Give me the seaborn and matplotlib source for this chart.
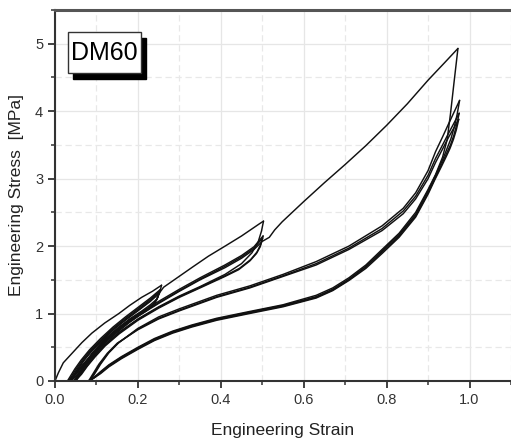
import numpy as np
import pandas as pd
import matplotlib
matplotlib.use("Agg")
import matplotlib.pyplot as plt
from matplotlib.patches import Rectangle
from matplotlib.ticker import MultipleLocator
import seaborn as sns

# ---------------- data ----------------
# Level A: cycles up to strain 0.25
a_v0_strain = [0, 0.008, 0.02, 0.041, 0.065, 0.089, 0.12, 0.154, 0.18, 0.209, 0.235, 0.257]
a_v0_stress = [0, 0.12, 0.27, 0.41, 0.57, 0.71, 0.86, 1.00, 1.12, 1.24, 1.33, 1.42]
a_u1_strain = [0.257, 0.252, 0.245, 0.23, 0.21, 0.18, 0.15, 0.12, 0.095, 0.075, 0.058, 0.045, 0.035, 0.030]
a_u1_stress = [1.42, 1.30, 1.21, 1.13, 1.04, 0.92, 0.77, 0.60, 0.44, 0.30, 0.18, 0.08, 0.02, 0]
a_r1_strain = [0.030, 0.038, 0.048, 0.063, 0.083, 0.11, 0.14, 0.17, 0.20, 0.23, 0.253]
a_r1_stress = [0, 0.08, 0.18, 0.31, 0.46, 0.63, 0.80, 0.95, 1.09, 1.23, 1.35]
a_u2_strain = [0.253, 0.248, 0.24, 0.225, 0.205, 0.18, 0.15, 0.12, 0.095, 0.075, 0.058, 0.046, 0.037, 0.033]
a_u2_stress = [1.35, 1.24, 1.16, 1.08, 1.00, 0.90, 0.75, 0.59, 0.43, 0.29, 0.17, 0.08, 0.02, 0]
a_r2_strain = [0.033, 0.041, 0.051, 0.066, 0.086, 0.112, 0.14, 0.17, 0.20, 0.23, 0.252]
a_r2_stress = [0, 0.08, 0.18, 0.31, 0.46, 0.62, 0.78, 0.93, 1.07, 1.21, 1.33]
a_u3_strain = [0.252, 0.247, 0.239, 0.224, 0.204, 0.18, 0.15, 0.12, 0.096, 0.076, 0.06, 0.048, 0.04, 0.036]
a_u3_stress = [1.33, 1.23, 1.15, 1.07, 0.99, 0.89, 0.74, 0.58, 0.42, 0.28, 0.17, 0.08, 0.02, 0]
a_r3_strain = [0.036, 0.044, 0.054, 0.069, 0.089, 0.115, 0.143, 0.172, 0.20, 0.23, 0.251]
a_r3_stress = [0, 0.08, 0.18, 0.31, 0.46, 0.62, 0.78, 0.92, 1.05, 1.19, 1.31]
a_u4_strain = [0.251, 0.246, 0.238, 0.223, 0.203, 0.18, 0.15, 0.12, 0.097, 0.077, 0.062, 0.05, 0.042, 0.038]
a_u4_stress = [1.31, 1.21, 1.13, 1.05, 0.97, 0.87, 0.72, 0.56, 0.41, 0.27, 0.16, 0.07, 0.02, 0]
# Level A last reload, continuing on the virgin path to strain 0.5
a_r4_strain = [0.038, 0.046, 0.056, 0.071, 0.091, 0.117, 0.145, 0.174, 0.20, 0.23, 0.25, 0.262,
               0.29, 0.332, 0.37, 0.413, 0.45, 0.493, 0.503]
a_r4_stress = [0, 0.08, 0.18, 0.31, 0.46, 0.62, 0.78, 0.92, 1.04, 1.18, 1.29, 1.39,
               1.51, 1.69, 1.85, 2.01, 2.15, 2.33, 2.37]

# Level B: cycles up to strain 0.5
b_u1_strain = [0.503, 0.498, 0.49, 0.475, 0.45, 0.41, 0.35, 0.30, 0.25, 0.20, 0.154, 0.12, 0.095, 0.075, 0.06, 0.05, 0.045]
b_u1_stress = [2.37, 2.22, 2.06, 1.90, 1.74, 1.58, 1.40, 1.26, 1.10, 0.92, 0.72, 0.54, 0.38, 0.23, 0.11, 0.04, 0]
b_r1_strain = [0.045, 0.055, 0.07, 0.09, 0.12, 0.154, 0.20, 0.25, 0.30, 0.35, 0.41, 0.45, 0.48, 0.502]
b_r1_stress = [0, 0.09, 0.24, 0.42, 0.62, 0.80, 0.99, 1.18, 1.36, 1.53, 1.72, 1.86, 1.99, 2.15]
b_u2_strain = [0.502, 0.496, 0.487, 0.472, 0.445, 0.41, 0.35, 0.30, 0.25, 0.20, 0.154, 0.12, 0.096, 0.077, 0.062, 0.053, 0.048]
b_u2_stress = [2.15, 2.02, 1.91, 1.80, 1.67, 1.56, 1.39, 1.25, 1.09, 0.91, 0.71, 0.53, 0.37, 0.22, 0.10, 0.04, 0]
b_r2_strain = [0.048, 0.058, 0.073, 0.093, 0.123, 0.157, 0.20, 0.25, 0.30, 0.35, 0.41, 0.45, 0.48, 0.501]
b_r2_stress = [0, 0.09, 0.24, 0.42, 0.61, 0.79, 0.97, 1.16, 1.34, 1.51, 1.70, 1.84, 1.97, 2.12]
b_u3_strain = [0.501, 0.495, 0.486, 0.47, 0.443, 0.41, 0.35, 0.30, 0.25, 0.20, 0.155, 0.121, 0.097, 0.078, 0.064, 0.055, 0.05]
b_u3_stress = [2.12, 1.99, 1.89, 1.78, 1.65, 1.55, 1.38, 1.24, 1.08, 0.90, 0.70, 0.52, 0.36, 0.22, 0.10, 0.04, 0]
# Level B last reload, continuing on the virgin path to strain 0.97
b_r3_strain = [0.05, 0.06, 0.075, 0.095, 0.125, 0.16, 0.20, 0.25, 0.30, 0.35, 0.41, 0.45, 0.48, 0.50,
               0.517, 0.53, 0.548, 0.60, 0.65, 0.70, 0.75, 0.80, 0.85, 0.90, 0.94, 0.972]
b_r3_stress = [0, 0.09, 0.24, 0.42, 0.61, 0.79, 0.96, 1.15, 1.33, 1.50, 1.68, 1.82, 1.95, 2.07,
               2.13, 2.24, 2.36, 2.66, 2.94, 3.21, 3.49, 3.79, 4.11, 4.46, 4.72, 4.93]

# Level C: cycles up to strain 0.97
c_u1_strain = [0.972, 0.963, 0.954, 0.946, 0.935, 0.918, 0.90, 0.87, 0.83, 0.789, 0.75, 0.709, 0.67, 0.63,
               0.55, 0.469, 0.39, 0.33, 0.284, 0.24, 0.20, 0.16, 0.13, 0.11, 0.095, 0.085]
c_u1_stress = [4.93, 4.45, 3.96, 3.58, 3.32, 3.06, 2.84, 2.50, 2.19, 1.95, 1.72, 1.53, 1.38, 1.27,
               1.13, 1.03, 0.93, 0.83, 0.74, 0.63, 0.50, 0.36, 0.24, 0.14, 0.06, 0]
c_r1_strain = [0.085, 0.095, 0.11, 0.13, 0.154, 0.20, 0.25, 0.30, 0.39, 0.47, 0.55, 0.63, 0.709, 0.789,
               0.84, 0.87, 0.90, 0.918, 0.935, 0.95, 0.963, 0.976]
c_r1_stress = [0, 0.10, 0.25, 0.42, 0.57, 0.78, 0.95, 1.07, 1.27, 1.41, 1.58, 1.77, 2.00, 2.30,
               2.56, 2.79, 3.12, 3.40, 3.62, 3.82, 3.99, 4.16]
c_u2_strain = [0.976, 0.97, 0.963, 0.955, 0.946, 0.935, 0.918, 0.90, 0.87, 0.83, 0.789, 0.75, 0.709, 0.67,
               0.63, 0.55, 0.469, 0.39, 0.33, 0.284, 0.24, 0.20, 0.16, 0.13, 0.11, 0.095, 0.083]
c_u2_stress = [4.16, 3.95, 3.76, 3.59, 3.45, 3.28, 3.05, 2.82, 2.47, 2.17, 1.93, 1.70, 1.51, 1.36,
               1.25, 1.12, 1.02, 0.92, 0.82, 0.73, 0.62, 0.49, 0.35, 0.23, 0.13, 0.05, 0]
c_r2_strain = [0.083, 0.093, 0.108, 0.128, 0.152, 0.20, 0.25, 0.30, 0.39, 0.47, 0.55, 0.63, 0.709, 0.789,
               0.84, 0.87, 0.90, 0.918, 0.935, 0.95, 0.963, 0.975]
c_r2_stress = [0, 0.10, 0.25, 0.41, 0.56, 0.77, 0.93, 1.05, 1.25, 1.39, 1.56, 1.74, 1.97, 2.26,
               2.52, 2.74, 3.05, 3.30, 3.50, 3.68, 3.83, 3.97]
c_u3_strain = [0.975, 0.969, 0.962, 0.954, 0.945, 0.934, 0.917, 0.90, 0.87, 0.83, 0.789, 0.75, 0.709, 0.67,
               0.63, 0.55, 0.469, 0.39, 0.33, 0.284, 0.24, 0.20, 0.16, 0.13, 0.11, 0.094, 0.081]
c_u3_stress = [3.97, 3.80, 3.64, 3.50, 3.38, 3.23, 3.01, 2.79, 2.45, 2.15, 1.91, 1.69, 1.50, 1.35,
               1.24, 1.11, 1.01, 0.91, 0.81, 0.72, 0.61, 0.48, 0.34, 0.22, 0.12, 0.05, 0]
c_r3_strain = [0.081, 0.091, 0.106, 0.126, 0.15, 0.20, 0.25, 0.30, 0.39, 0.47, 0.55, 0.63, 0.709, 0.789,
               0.84, 0.87, 0.90, 0.918, 0.935, 0.95, 0.963, 0.974]
c_r3_stress = [0, 0.10, 0.25, 0.41, 0.56, 0.76, 0.92, 1.04, 1.24, 1.38, 1.55, 1.72, 1.95, 2.23,
               2.48, 2.70, 3.00, 3.24, 3.44, 3.62, 3.76, 3.88]
c_u4_strain = [0.974, 0.968, 0.961, 0.953, 0.944, 0.933, 0.916, 0.90, 0.87, 0.83, 0.789, 0.75, 0.709, 0.67,
               0.63, 0.55, 0.469, 0.39, 0.33, 0.284, 0.24, 0.20, 0.16, 0.13, 0.11, 0.093, 0.079]
c_u4_stress = [3.88, 3.72, 3.58, 3.45, 3.33, 3.19, 2.98, 2.77, 2.43, 2.13, 1.89, 1.67, 1.49, 1.34,
               1.23, 1.10, 1.00, 0.90, 0.80, 0.71, 0.60, 0.47, 0.33, 0.21, 0.11, 0.04, 0]

segments = [
    (a_v0_strain, a_v0_stress), (a_u1_strain, a_u1_stress), (a_r1_strain, a_r1_stress),
    (a_u2_strain, a_u2_stress), (a_r2_strain, a_r2_stress), (a_u3_strain, a_u3_stress),
    (a_r3_strain, a_r3_stress), (a_u4_strain, a_u4_stress), (a_r4_strain, a_r4_stress),
    (b_u1_strain, b_u1_stress), (b_r1_strain, b_r1_stress), (b_u2_strain, b_u2_stress),
    (b_r2_strain, b_r2_stress), (b_u3_strain, b_u3_stress), (b_r3_strain, b_r3_stress),
    (c_u1_strain, c_u1_stress), (c_r1_strain, c_r1_stress), (c_u2_strain, c_u2_stress),
    (c_r2_strain, c_r2_stress), (c_u3_strain, c_u3_stress), (c_r3_strain, c_r3_stress),
    (c_u4_strain, c_u4_stress),
]

x_ticks = [0.0, 0.2, 0.4, 0.6, 0.8, 1.0]
y_ticks = [0, 1, 2, 3, 4, 5]
sample_label = "DM60"

rows = []
for i, (sx, sy) in enumerate(segments):
    for xv, yv in zip(sx, sy):
        rows.append({"seg": i, "strain": xv, "stress": yv})
df = pd.DataFrame(rows)

# ---------------- figure ----------------
sns.set_style("white")
plt.rcParams["font.family"] = ["Liberation Sans", "DejaVu Sans"]

W, H = 511, 441
fig = plt.figure(figsize=(W / 100, H / 100), dpi=100)
ax = fig.add_axes([55 / W, (H - 381) / H, (W - 55) / W, (381 - 10) / H])

ax.set_xlim(0, 1.1)
ax.set_ylim(0, 5.5)
ax.xaxis.set_major_locator(MultipleLocator(0.2))
ax.xaxis.set_minor_locator(MultipleLocator(0.1))
ax.yaxis.set_major_locator(MultipleLocator(1))
ax.yaxis.set_minor_locator(MultipleLocator(0.5))
ax.set_xticks(x_ticks)
ax.set_xticklabels([f"{v:.1f}" for v in x_ticks])
ax.set_yticks(y_ticks)
ax.set_yticklabels([str(v) for v in y_ticks])

ax.grid(True, which="major", color="#e6e6e6", lw=0.9, ls="-")
ax.grid(True, which="minor", color="#e8e8e8", lw=0.9, ls=(0, (5, 3)))
ax.set_axisbelow(True)

sns.lineplot(data=df, x="strain", y="stress", units="seg", estimator=None, sort=False,
             color="#111111", lw=1.05, ax=ax, legend=False)

for side in ["left", "bottom"]:
    ax.spines[side].set_color("#333333")
    ax.spines[side].set_linewidth(1.5)
ax.spines["top"].set_color("#555555")
ax.spines["top"].set_linewidth(2.2)
ax.spines["right"].set_visible(False)

ax.tick_params(which="major", direction="out", length=5, width=1.3, color="#333333",
               labelsize=10.5, labelcolor="#333333", top=False, right=False, bottom=True, left=True)
ax.tick_params(which="minor", direction="out", length=3, width=1.1, color="#333333",
               top=False, right=False, bottom=True, left=True)

ax.set_xlabel("Engineering Strain", fontsize=12.5, color="#222222", labelpad=12)
ax.set_ylabel("Engineering Stress  [MPa]", fontsize=12.5, color="#222222", labelpad=8)

# DM60 label box with shadow (figure pixel coordinates)
bx0, by0, bx1, by1 = 68, 32, 141, 73
fig.patches.append(Rectangle(((bx0 + 5) / W, (H - by1 - 6) / H), (bx1 - bx0) / W, (by1 - by0) / H,
                             transform=fig.transFigure, facecolor="black", edgecolor="black", zorder=5))
fig.patches.append(Rectangle((bx0 / W, (H - by1) / H), (bx1 - bx0) / W, (by1 - by0) / H,
                             transform=fig.transFigure, facecolor="white", edgecolor="#333333",
                             lw=1.0, zorder=6))
fig.text((bx0 + bx1) / 2 / W, (H - (by0 + by1) / 2) / H, sample_label, ha="center", va="center",
         fontsize=18, color="black", zorder=7)

fig.savefig("out.png", dpi=100)
